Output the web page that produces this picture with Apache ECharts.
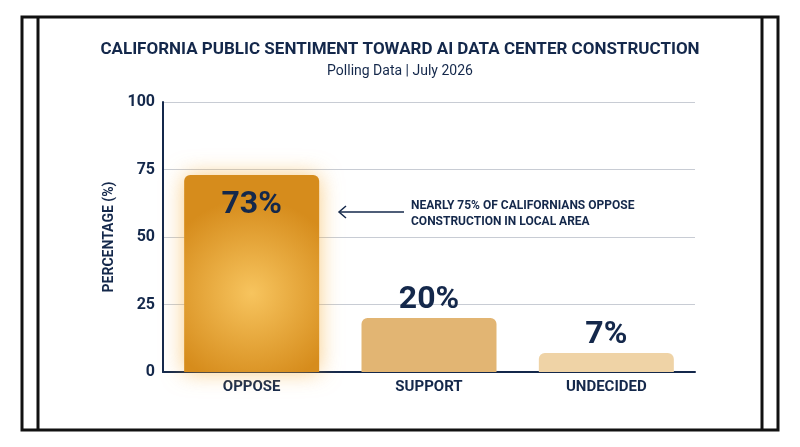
<!DOCTYPE html>
<html>
<head>
<meta charset="utf-8">
<script src="https://cdn.jsdelivr.net/npm/echarts@6/dist/echarts.min.js"></script>
<style>html,body{margin:0;background:#fff}#chart{width:800px;height:447px}</style>
</head>
<body>
<div id="chart"></div>
<script>
const categories = ['OPPOSE', 'SUPPORT', 'UNDECIDED'];
const values = [73, 20, 7];
const yTicks = [0, 25, 50, 75, 100];

const navy = '#14284b';
const myChart = echarts.init(document.getElementById('chart'));
const barColors = [
    {
        type: 'radial', x: 0.5, y: 0.6, r: 0.7,
        colorStops: [{ offset: 0, color: '#f7c45e' }, { offset: 1, color: '#d68c1c' }]
    },
    '#e2b573',
    '#efd3a6'
];
const option = {
    textStyle: { fontFamily: 'Roboto' },
    title: {
        text: 'CALIFORNIA PUBLIC SENTIMENT TOWARD AI DATA CENTER CONSTRUCTION',
        subtext: 'Polling Data | July 2026',
        left: 'center',
        top: 36,
        itemGap: 6,
        textStyle: { color: navy, fontSize: 17, fontWeight: 'bold' },
        subtextStyle: { color: navy, fontSize: 14 }
    },
    grid: { left: 163, right: 105, top: 102, bottom: 75 },
    xAxis: {
        type: 'category',
        data: categories,
        axisLine: { lineStyle: { color: navy, width: 2 } },
        axisTick: { show: false },
        axisLabel: { color: navy, fontSize: 15, fontWeight: 'bold', margin: 8 }
    },
    yAxis: {
        type: 'value',
        min: 0, max: 100, interval: 25,
        name: 'PERCENTAGE (%)',
        nameLocation: 'middle',
        nameGap: 40,
        nameTextStyle: { color: navy, fontSize: 14, fontWeight: 'bold' },
        axisLine: { show: true, lineStyle: { color: navy, width: 2 } },
        axisLabel: {
            color: navy, fontSize: 16, fontWeight: 'bold',
            formatter: v => yTicks.includes(v) ? String(v) : ''
        },
        splitLine: { lineStyle: { color: '#c8ccd4' } }
    },
    series: [{
        type: 'bar',
        barWidth: 135,
        data: values.map((v, i) => ({
            value: v,
            itemStyle: Object.assign(
                { color: barColors[i], borderRadius: [6, 6, 0, 0] },
                i === 0 ? { shadowColor: 'rgba(245,170,50,0.6)', shadowBlur: 22 } : {}
            ),
            label: i === 0
                ? { show: true, position: 'insideTop', distance: 14 }
                : { show: true, position: 'top', distance: 2 }
        })),
        label: { color: navy, fontSize: 32, fontWeight: 'bold', formatter: '{c}%' }
    }],
    graphic: [
        { type: 'rect', shape: { x: 22, y: 17, width: 756, height: 413 }, style: { fill: 'none', stroke: '#111', lineWidth: 3 } },
        { type: 'line', shape: { x1: 38, y1: 17, x2: 38, y2: 430 }, style: { stroke: '#111', lineWidth: 3 } },
        { type: 'line', shape: { x1: 762, y1: 17, x2: 762, y2: 430 }, style: { stroke: '#111', lineWidth: 3 } },
        { type: 'line', shape: { x1: 340, y1: 212, x2: 404, y2: 212 }, style: { stroke: navy, lineWidth: 1.5 } },
        { type: 'polyline', shape: { points: [[346, 206], [339, 212], [346, 218]] }, style: { stroke: navy, lineWidth: 1.5, fill: 'none' } },
        {
            type: 'text', left: 411, top: 198,
            style: {
                text: 'NEARLY 75% OF CALIFORNIANS OPPOSE\nCONSTRUCTION IN LOCAL AREA',
                fill: navy, font: 'bold 12px Roboto', lineHeight: 16
            }
        }
    ]
};
myChart.setOption(option);
window.addEventListener('resize', () => myChart.resize());
</script>
</body>
</html>
